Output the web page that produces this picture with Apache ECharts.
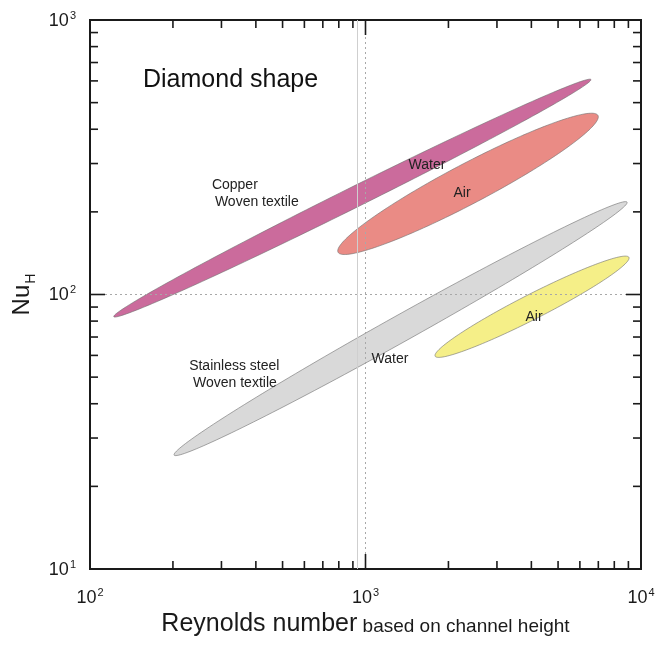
<!DOCTYPE html>
<html>
<head>
<meta charset="utf-8">
<script src="https://cdn.jsdelivr.net/npm/echarts@6/dist/echarts.min.js"></script>
<style>
  html, body { margin: 0; padding: 0; background: #fff; }
  #chart { width: 671px; height: 645px; }
</style>
</head>
<body>
<div id="chart"></div>
<script>
// Nusselt number vs. Reynolds number: operating regions of woven-textile channels

// axis ranges and tick values
const xRange = [100, 10000];
const yRange = [10, 1000];
const xMajorTicks = [1000];
const yMajorTicks = [100];
const xMinorTicks = [200, 300, 400, 500, 600, 700, 800, 900, 2000, 3000, 4000, 5000, 6000, 7000, 8000, 9000];
const yMinorTicks = [20, 30, 40, 50, 60, 70, 80, 90, 200, 300, 400, 500, 600, 700, 800, 900];

// regions: lower-left end [Re, Nu], upper-right end [Re, Nu], thickness in decades
const regionNames = ['Copper - Water', 'Copper - Air', 'Stainless steel - Water', 'Stainless steel - Air'];
const regionStart = [[122, 83], [795, 142.5], [202, 26], [1790, 59.6]];
const regionEnd = [[6580, 607], [6980, 449], [8900, 217], [9040, 136.6]];
const regionThickness = [0.074, 0.145, 0.096, 0.09];

// reference lines
const refLineSolidRe = 935;
const refLineDottedRe = 1000;
const refLineDottedNu = 100;

// annotations: text and anchor [Re, Nu]
const noteTexts = ['Copper', 'Woven textile', 'Water', 'Air', 'Stainless steel', 'Woven textile', 'Water', 'Air'];
const noteAnchors = [[277, 250], [284, 216.7], [1672, 295], [2240, 233.6], [229, 54.8], [236.5, 47.5], [1227, 58.1], [4089, 82.6]];
const noteAlign = ['left', 'left', 'center', 'center', 'left', 'left', 'center', 'center'];

const regionColors = ['#CB6B9C', '#EA8B85', '#D9D9D9', '#F5EF88'];
const FONT = '"Liberation Sans", Arial, Helvetica, sans-serif';

const chart = echarts.init(document.getElementById('chart'), null, { renderer: 'canvas' });

function powLabel(value) {
  const e = Math.round(Math.log10(value));
  return '{b|10}{s|' + e + '}';
}
const tickRich = {
  b: { fontSize: 18, fontFamily: FONT, color: '#1a1a1a', verticalAlign: 'bottom' },
  s: { fontSize: 11, fontFamily: FONT, color: '#1a1a1a', verticalAlign: 'top', padding: [0, 0, 9, 1] }
};

// ellipse outline in pixel space from two end points and thickness
function regionItem(params, api) {
  const p1 = api.coord([api.value(0), api.value(1)]);
  const p2 = api.coord([api.value(2), api.value(3)]);
  const decadePx = api.coord([1000, 10])[0] - api.coord([100, 10])[0];
  const b = api.value(4) * decadePx / 2;
  const cx = (p1[0] + p2[0]) / 2, cy = (p1[1] + p2[1]) / 2;
  const a = Math.hypot(p2[0] - p1[0], p2[1] - p1[1]) / 2;
  const th = Math.atan2(p2[1] - p1[1], p2[0] - p1[0]);
  const ct = Math.cos(th), st = Math.sin(th);
  const pts = [];
  const n = 180;
  for (let k = 0; k < n; k++) {
    const t = 2 * Math.PI * k / n;
    const lx = a * Math.cos(t), ly = b * Math.sin(t);
    pts.push([cx + lx * ct - ly * st, cy + lx * st + ly * ct]);
  }
  return {
    type: 'polygon',
    shape: { points: pts },
    style: { fill: regionColors[params.dataIndex], stroke: 'rgba(110,110,110,0.75)', lineWidth: 0.8 }
  };
}

function xTickItem(len) {
  return function (params, api) {
    const v = api.value(0);
    const bot = api.coord([v, yRange[0]]);
    const top = api.coord([v, yRange[1]]);
    return {
      type: 'group',
      children: [
        { type: 'line', shape: { x1: bot[0], y1: bot[1], x2: bot[0], y2: bot[1] - len }, style: { stroke: '#1a1a1a', lineWidth: 1.6 } },
        { type: 'line', shape: { x1: top[0], y1: top[1], x2: top[0], y2: top[1] + len }, style: { stroke: '#1a1a1a', lineWidth: 1.6 } }
      ]
    };
  };
}
function yTickItem(len) {
  return function (params, api) {
    const v = api.value(1);
    const l = api.coord([xRange[0], v]);
    const r = api.coord([xRange[1], v]);
    return {
      type: 'group',
      children: [
        { type: 'line', shape: { x1: l[0], y1: l[1], x2: l[0] + len, y2: l[1] }, style: { stroke: '#1a1a1a', lineWidth: 1.6 } },
        { type: 'line', shape: { x1: r[0], y1: r[1], x2: r[0] - len, y2: r[1] }, style: { stroke: '#1a1a1a', lineWidth: 1.6 } }
      ]
    };
  };
}

function noteItem(params, api) {
  const p = api.coord([api.value(0), api.value(1)]);
  return {
    type: 'text',
    x: p[0], y: p[1],
    style: {
      text: noteTexts[params.dataIndex],
      fontSize: 14, fontFamily: FONT, fill: '#222',
      align: noteAlign[params.dataIndex], verticalAlign: 'middle'
    }
  };
}

const option = {
  backgroundColor: '#fff',
  animation: false,
  title: {
    text: 'Diamond shape',
    left: 138, top: 63,
    textStyle: { fontSize: 25, fontWeight: 'normal', fontFamily: FONT, color: '#111' }
  },
  grid: {
    left: 90, right: 30, top: 20, bottom: 76,
    show: true, borderColor: '#1a1a1a', borderWidth: 2, backgroundColor: 'transparent'
  },
  xAxis: {
    type: 'log', logBase: 10, min: xRange[0], max: xRange[1],
    axisLine: { show: false }, axisTick: { show: false }, splitLine: { show: false },
    axisLabel: { formatter: powLabel, rich: tickRich, margin: 18 },
    name: '{a|Reynolds number}{c| based on channel height}',
    nameLocation: 'middle', nameGap: 38,
    nameTextStyle: {
      rich: {
        a: { fontSize: 25, fontFamily: FONT, color: '#1a1a1a', verticalAlign: 'bottom' },
        c: { fontSize: 19, fontFamily: FONT, color: '#1a1a1a', verticalAlign: 'bottom', padding: [0, 0, 1, 0] }
      }
    }
  },
  yAxis: {
    type: 'log', logBase: 10, min: yRange[0], max: yRange[1],
    axisLine: { show: false }, axisTick: { show: false }, splitLine: { show: false },
    axisLabel: { formatter: powLabel, rich: tickRich, margin: 14 },
    name: '{a|Nu}{h|H}',
    nameLocation: 'middle', nameGap: 36, nameRotate: 90,
    nameTextStyle: {
      rich: {
        a: { fontSize: 24, fontFamily: FONT, color: '#1a1a1a', verticalAlign: 'top' },
        h: { fontSize: 14, fontFamily: FONT, color: '#1a1a1a', verticalAlign: 'top', padding: [14, 0, 0, 1] }
      }
    }
  },
  series: [
    {
      name: 'reference lines',
      type: 'line',
      data: [],
      silent: true,
      markLine: {
        silent: true, symbol: 'none', label: { show: false },
        data: [
          { xAxis: refLineSolidRe, lineStyle: { type: 'solid', color: '#cfcfcf', width: 1 } },
          { xAxis: refLineDottedRe, lineStyle: { type: [2, 3], color: '#a8a8a8', width: 1 } },
          { yAxis: refLineDottedNu, lineStyle: { type: [2, 3], color: '#a8a8a8', width: 1 } }
        ]
      }
    },
    {
      name: 'regions',
      type: 'custom',
      renderItem: regionItem,
      data: regionNames.map((n, i) => ({
        name: n,
        value: [regionStart[i][0], regionStart[i][1], regionEnd[i][0], regionEnd[i][1], regionThickness[i]]
      })),
      z: 3
    },
    {
      name: 'x minor ticks', type: 'custom', silent: true, z: 5,
      renderItem: xTickItem(8),
      data: xMinorTicks.map(v => [v, yRange[0]])
    },
    {
      name: 'x major ticks', type: 'custom', silent: true, z: 5,
      renderItem: xTickItem(15),
      data: xMajorTicks.map(v => [v, yRange[0]])
    },
    {
      name: 'y minor ticks', type: 'custom', silent: true, z: 5,
      renderItem: yTickItem(8),
      data: yMinorTicks.map(v => [xRange[0], v])
    },
    {
      name: 'y major ticks', type: 'custom', silent: true, z: 5,
      renderItem: yTickItem(15),
      data: yMajorTicks.map(v => [xRange[0], v])
    },
    {
      name: 'notes', type: 'custom', silent: true, z: 6,
      renderItem: noteItem,
      data: noteAnchors
    }
  ]
};

chart.setOption(option);
</script>
</body>
</html>
